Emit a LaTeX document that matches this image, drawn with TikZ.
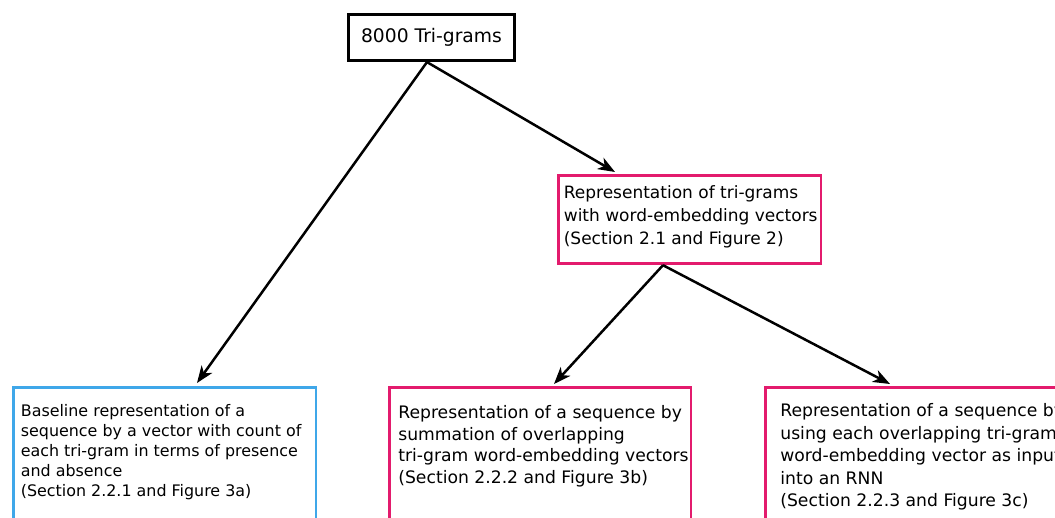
\documentclass[tikz,border=0pt]{standalone}
\usepackage{fontspec}
\setmainfont{DejaVu Sans}
\usetikzlibrary{arrows.meta}
\definecolor{pinkc}{RGB}{227,27,109}
\definecolor{bluec}{RGB}{63,167,233}
\begin{document}
\begin{tikzpicture}[x=1pt,y=-1pt,
  box/.style={draw, line width=2.7pt, anchor=north west, align=left},
  conn/.style={line width=2.5pt, -{Stealth[length=17pt,width=13pt,inset=5pt]}},
]
\useasboundingbox (0,0) rectangle (1055,518);
\clip (0,0) rectangle (1055,518);
\node[draw, line width=2.7pt, minimum width=166.5pt, minimum height=46.5pt, inner sep=0pt,
      font=\fontsize{18.7}{22}\selectfont] (top) at (431.5,37.5) {8000 Tri-grams};
\node[box, draw=pinkc, inner xsep=5.5pt, inner ysep=10pt, font=\fontsize{17}{23.3}\selectfont]
  (rep) at (557,174) {\parbox[c][68.5pt][t]{251.5pt}{\mbox{Representation of tri-grams}\\\mbox{with word-embedding vectors}\\\mbox{(Section 2.1 and Figure 2)}}};
\node[box, draw=bluec, inner xsep=7.5pt, inner ysep=17.5pt, font=\fontsize{15.9}{20}\selectfont]
  (base) at (12,386) {\parbox[c][200pt][t]{287.5pt}{\mbox{Baseline representation of a}\\\mbox{sequence by a vector with count of}\\\mbox{each tri-gram in terms of presence}\\\mbox{and absence}\\\mbox{(Section 2.2.1 and Figure 3a)}}};
\node[box, draw=pinkc, inner xsep=9pt, inner ysep=18pt, font=\fontsize{17.2}{21.7}\selectfont]
  (sum) at (388,386) {\parbox[c][200pt][t]{283.5pt}{\mbox{Representation of a sequence by}\\\mbox{summation of overlapping}\\\mbox{tri-gram word-embedding vectors}\\\mbox{(Section 2.2.2 and Figure 3b)}}};
\node[box, draw=pinkc, inner xsep=15pt, inner ysep=16.5pt, font=\fontsize{17.2}{22.5}\selectfont]
  (rnn) at (764,386) {\parbox[c][200pt][t]{271.5pt}{\mbox{Representation of a sequence by}\\\mbox{using each overlapping tri-gram}\\\mbox{word-embedding vector as input}\\\mbox{into an RNN}\\\mbox{(Section 2.2.3 and Figure 3c)}}};
\draw[conn] ([xshift=-4.5pt]top.south) -- ([xshift=58pt,yshift=2pt]rep.north west);
\draw[conn] ([xshift=-4.5pt]top.south) -- ([xshift=185pt,yshift=3pt]base.north west);
\draw[conn] ([xshift=106pt]rep.south west) -- ([xshift=166pt,yshift=2pt]sum.north west);
\draw[conn] ([xshift=106pt]rep.south west) -- ([xshift=126pt,yshift=2pt]rnn.north west);
\end{tikzpicture}
\end{document}
